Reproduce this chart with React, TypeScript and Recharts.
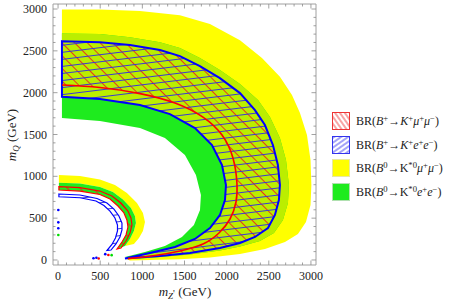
import React from 'react';
import { ComposedChart, Scatter, XAxis, YAxis } from 'recharts';

// ---------- data (GeV) ----------
const allTicks = [0, 100, 200, 300, 400, 500, 600, 700, 800, 900, 1000, 1100, 1200, 1300, 1400, 1500, 1600, 1700, 1800, 1900, 2000, 2100, 2200, 2300, 2400, 2500, 2600, 2700, 2800, 2900, 3000];
const majorTicks = [0, 500, 1000, 1500, 2000, 2500, 3000];

// big crescent boundaries (top-left -> right -> bottom tip)
const yellowOuter = [[46, 2995], [497, 2993], [972, 2975], [1446, 2927], [1802, 2820], [2158, 2628], [2419, 2413], [2632, 2190], [2775, 1971], [2870, 1756], [2953, 1493], [2995, 1195], [3005, 896], [2995, 657], [2941, 454], [2846, 311], [2692, 215], [2455, 131], [2158, 72], [1802, 30], [1446, 8], [1090, 0], [853, -5]];
const greenOuter = [[46, 2708], [497, 2700], [853, 2664], [1209, 2604], [1446, 2533], [1683, 2413], [1920, 2270], [2158, 2103], [2372, 1912], [2514, 1708], [2632, 1458], [2704, 1195], [2739, 896], [2727, 681], [2668, 478], [2561, 323], [2395, 227], [2158, 161], [1920, 113], [1565, 66], [1209, 36], [912, 12]];
const blueOuter = [[46, 2616], [497, 2604], [853, 2569], [1209, 2509], [1446, 2437], [1683, 2318], [1920, 2174], [2158, 1995], [2336, 1792], [2454, 1613], [2549, 1374], [2608, 1135], [2632, 896], [2620, 717], [2573, 538], [2490, 382], [2336, 275], [2158, 203], [1920, 143], [1565, 84], [1209, 48], [853, 24]];
const redInner = [[46, 2091], [497, 2061], [972, 1989], [1387, 1876], [1719, 1708], [1945, 1493], [2075, 1219], [2122, 920], [2111, 693], [2040, 490], [1909, 323], [1719, 191], [1446, 108], [1149, 54], [829, 16]];
const blueInner = [[46, 1951], [497, 1923], [972, 1852], [1327, 1744], [1624, 1577], [1826, 1374], [1945, 1135], [1992, 896], [1980, 717], [1921, 538], [1802, 382], [1624, 251], [1387, 155], [1090, 84], [794, 18]];
const greenInner = [[46, 1697], [497, 1661], [972, 1577], [1268, 1458], [1505, 1254], [1636, 1016], [1695, 777], [1684, 597], [1612, 418], [1470, 275], [1268, 167], [1031, 96], [794, 36]];

// small arcs near the origin
const yellowSmallOuter = [[10, 1016], [260, 1004], [497, 962], [675, 896], [817, 800], [936, 681], [1007, 561], [1031, 454], [1007, 346], [960, 263], [900, 191]];
const greenSmallOuter = [[10, 923], [260, 914], [497, 872], [651, 812], [770, 723], [865, 621], [912, 526], [924, 442], [900, 346], [853, 251], [794, 167]];
const redSmallOuter = [[10, 876], [260, 866], [497, 824], [639, 765], [746, 681], [829, 585], [865, 502], [877, 418], [853, 323], [806, 227], [746, 143]];
const redSmallInner = [[10, 836], [260, 824], [497, 783], [616, 729], [711, 645], [782, 562], [817, 478], [829, 394], [806, 299], [758, 215], [699, 131]];
const blueSmallOuter = [[10, 789], [260, 777], [462, 735], [580, 681], [663, 609], [722, 526], [758, 442], [758, 358], [734, 275], [687, 191], [628, 119]];
const blueSmallInner = [[10, 756], [260, 744], [450, 705], [544, 651], [616, 585], [675, 502], [705, 418], [705, 346], [681, 263], [639, 185], [580, 113]];

// isolated points
const blueDots = [[3, 598], [3, 450], [3, 379], [420, 20], [455, 26], [560, 70]];
const redDots = [[482, 18], [597, 60]];
const greenDots = [[3, 299], [636, 58]];

const legendLabels = [
  [['BR(', 'n'], ['B', 'i'], ['+', 's'], ['→', 'n'], ['K', 'i'], ['+', 's'], ['μ', 'i'], ['+', 's'], ['μ', 'i'], ['−', 's'], [')', 'n']],
  [['BR(', 'n'], ['B', 'i'], ['+', 's'], ['→', 'n'], ['K', 'i'], ['+', 's'], ['e', 'i'], ['+', 's'], ['e', 'i'], ['−', 's'], [')', 'n']],
  [['BR(', 'n'], ['B', 'i'], ['0', 's'], ['→', 'n'], ['K', 'n'], ['*0', 's'], ['μ', 'i'], ['+', 's'], ['μ', 'i'], ['−', 's'], [')', 'n']],
  [['BR(', 'n'], ['B', 'i'], ['0', 's'], ['→', 'n'], ['K', 'n'], ['*0', 's'], ['e', 'i'], ['+', 's'], ['e', 'i'], ['−', 's'], [')', 'n']],
];

// ---------- styles ----------
const FONT = '"Liberation Serif", "DejaVu Serif", serif';
const YELLOW = '#ffff00';
const GREEN = '#1eeb1e';
const LIME = '#bbee00';
const FRAME = '#a0a0a0';
const TICKC = '#8a8a8a';

type P = { x: number; y: number };
const pts = (arr: number[][]): P[] => arr.map(([x, y]) => ({ x, y }));
const ring = (outer: number[][], inner: number[][]): P[] => [...pts(outer), ...pts(inner).reverse()];

const noDot = () => <g />;
const dot = (color: string) => (p: any) => <circle cx={p.cx} cy={p.cy} r={1.3} fill={color} />;

function BottomTick(props: any) {
  const { x, y, payload } = props;
  const v = payload.value;
  const major = majorTicks.includes(v);
  return (
    <g>
      <line x1={x} x2={x} y1={y} y2={y - (major ? 4.5 : 2.5)} stroke={TICKC} strokeWidth={0.8} />
      {major ? (
        <text x={x} y={y + 15} textAnchor="middle" fontSize={12} fontFamily={FONT} fill="#222">{v}</text>
      ) : null}
    </g>
  );
}
function TopTick(props: any) {
  const { x, y, payload } = props;
  const major = majorTicks.includes(payload.value);
  return <line x1={x} x2={x} y1={y} y2={y + (major ? 4.5 : 2.5)} stroke={TICKC} strokeWidth={0.8} />;
}
function LeftTick(props: any) {
  const { x, y, payload } = props;
  const v = payload.value;
  const major = majorTicks.includes(v);
  return (
    <g>
      <line x1={x} x2={x + (major ? 4.5 : 2.5)} y1={y} y2={y} stroke={TICKC} strokeWidth={0.8} />
      {major ? (
        <text x={x - 6} y={y + 4} textAnchor="end" fontSize={12} fontFamily={FONT} fill="#222">{v}</text>
      ) : null}
    </g>
  );
}
function RightTick(props: any) {
  const { x, y, payload } = props;
  const major = majorTicks.includes(payload.value);
  return <line x1={x} x2={x - (major ? 4.5 : 2.5)} y1={y} y2={y} stroke={TICKC} strokeWidth={0.8} />;
}

const XLabel = () => (
  <text x={185} y={296} textAnchor="middle" fontSize={13} fontFamily={FONT} fill="#222">
    <tspan fontStyle="italic">m</tspan>
    <tspan fontStyle="italic" fontSize={9} dy={3}>Z</tspan>
    <tspan fontSize={10} dy={-2}>'</tspan>
    <tspan dy={-1}> (GeV)</tspan>
  </text>
);
const YLabel = () => (
  <text x={0} y={0} transform="translate(16,135) rotate(-90)" textAnchor="middle" fontSize={13} fontFamily={FONT} fill="#222">
    <tspan fontStyle="italic">m</tspan>
    <tspan fontStyle="italic" fontSize={9} dy={3}>Q</tspan>
    <tspan dy={-3}> (GeV)</tspan>
  </text>
);

const area = (data: P[], fill: string, stroke = 'none', sw = 0) => (
  <Scatter
    data={data}
    shape={noDot}
    line={{ fill, stroke, strokeWidth: sw }}
    lineJointType="linearClosed"
    isAnimationActive={false}
    legendType="none"
  />
);

function LegendIcon({ kind }: { kind: number }) {
  const cfg = [
    { fill: 'url(#redIcon)', stroke: '#ee3333' },
    { fill: 'url(#blueIcon)', stroke: '#3333ee' },
    { fill: YELLOW, stroke: '#e8e8a0' },
    { fill: GREEN, stroke: '#b0e0b0' },
  ][kind];
  return (
    <svg width={18} height={18} style={{ display: 'block' }}>
      <rect x={0.5} y={0.5} width={17} height={17} fill={cfg.fill} stroke={cfg.stroke} strokeWidth={1} />
    </svg>
  );
}

export default function App() {
  const axisCommon = {
    type: 'number' as const,
    domain: [-60, 3060],
    allowDataOverflow: true,
    ticks: allTicks,
    interval: 0 as const,
    tickSize: 0,
    tickMargin: 0,
    tickLine: false,
    axisLine: { stroke: FRAME, strokeWidth: 1 },
  };
  return (
    <div style={{ position: 'absolute', left: 0, top: 0, width: 456, height: 308, background: '#fff' }}>
      <svg width={0} height={0} style={{ position: 'absolute' }}>
        <defs>
          <pattern id="redHatch" patternUnits="userSpaceOnUse" width={30} height={9} patternTransform="rotate(45)">
            <line x1={0} y1={4.5} x2={30} y2={4.5} stroke="#ee2020" strokeWidth={0.9} />
          </pattern>
          <pattern id="blueHatch" patternUnits="userSpaceOnUse" width={40} height={7} patternTransform="rotate(-7)">
            <line x1={0} y1={3.5} x2={40} y2={3.5} stroke="#3a3ad0" strokeWidth={1} />
          </pattern>
          <pattern id="redIcon" patternUnits="userSpaceOnUse" width={20} height={4} patternTransform="rotate(55)">
            <line x1={0} y1={2} x2={20} y2={2} stroke="#ee3333" strokeWidth={0.9} />
          </pattern>
          <pattern id="blueIcon" patternUnits="userSpaceOnUse" width={20} height={4} patternTransform="rotate(-35)">
            <line x1={0} y1={2} x2={20} y2={2} stroke="#3333ee" strokeWidth={0.9} />
          </pattern>
        </defs>
      </svg>
      <ComposedChart width={456} height={308} margin={{ top: 0, right: 0, bottom: 0, left: 0 }}>
        {area(ring(yellowOuter, blueInner), YELLOW)}
        {area(ring(greenOuter, greenInner), GREEN)}
        {area(ring(greenOuter, blueInner), LIME)}
        {area(ring(blueOuter, redInner), 'url(#redHatch)')}
        {area(ring(blueOuter, blueInner), 'url(#blueHatch)', '#0000ff', 2)}
        <Scatter
          data={pts(redInner)}
          shape={noDot}
          line={{ fill: 'none', stroke: '#ff0000', strokeWidth: 1.6 }}
          lineJointType="natural"
          isAnimationActive={false}
          legendType="none"
        />
        {area(ring(yellowSmallOuter, greenSmallOuter), YELLOW)}
        {area(ring(greenSmallOuter, redSmallInner), GREEN)}
        {area(ring(redSmallOuter, redSmallInner), 'url(#redHatch)', '#ff0000', 1.2)}
        {area(ring(blueSmallOuter, blueSmallInner), 'url(#blueHatch)', '#0000ff', 1.2)}
        <Scatter data={pts(blueDots)} shape={dot('#0000ff')} isAnimationActive={false} legendType="none" />
        <Scatter data={pts(redDots)} shape={dot('#ff0000')} isAnimationActive={false} legendType="none" />
        <Scatter data={pts(greenDots)} shape={dot('#00dd00')} isAnimationActive={false} legendType="none" />
        <XAxis {...axisCommon} dataKey="x" height={43} tick={BottomTick} label={{ content: XLabel }} />
        <XAxis {...axisCommon} xAxisId="top" orientation="top" dataKey="x" height={4} tick={TopTick} />
        <YAxis {...axisCommon} dataKey="y" width={53} tick={LeftTick} label={{ content: YLabel }} />
        <YAxis {...axisCommon} yAxisId="right" orientation="right" dataKey="y" width={140} tick={RightTick} />
      </ComposedChart>
      {legendLabels.map((segs, k) => (
        <div
          key={k}
          style={{
            position: 'absolute',
            left: 332,
            top: [112, 136, 159, 183][k],
            height: 18,
            display: 'flex',
            alignItems: 'center',
            fontFamily: FONT,
            fontSize: 12,
            color: '#222',
            whiteSpace: 'nowrap',
          }}
        >
          <LegendIcon kind={k} />
          <span style={{ marginLeft: 6 }}>
            {segs.map(([t, s], j) =>
              s === 'i' ? (
                <i key={j}>{t}</i>
              ) : s === 's' ? (
                <sup key={j} style={{ fontSize: '0.72em', verticalAlign: '0.45em', lineHeight: 0 }}>{t}</sup>
              ) : (
                <span key={j}>{t}</span>
              )
            )}
          </span>
        </div>
      ))}
    </div>
  );
}
